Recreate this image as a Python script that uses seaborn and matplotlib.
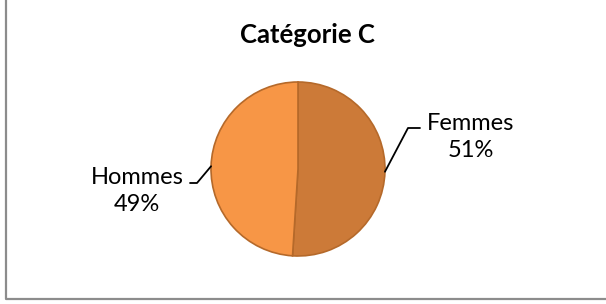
import numpy as np
import matplotlib
matplotlib.use("Agg")
import matplotlib.pyplot as plt
import seaborn as sns

# données
categories = ["Femmes", "Hommes"]
parts = [51, 49]
colors = ["#CC7A38", "#F79646"]
title = "Catégorie C"

sns.set_theme(style="white")
plt.rcParams['font.family'] = ['Lato', 'DejaVu Sans']

W, H = 606, 304
fig = plt.figure(figsize=(W / 100, H / 100), dpi=100)
ax = fig.add_axes([0, 0, 1, 1])

# cadre du graphique (bords gauche et bas visibles)
ax.plot([5.5, 5.5, W + 5], [H + 5, 5.5, 5.5],
        color="#8c8c8c", lw=1.6, solid_capstyle="butt", clip_on=False)

cx, cy, r = 298, H - 169, 87
wedges, _ = ax.pie(parts, colors=colors, startangle=90, counterclock=False,
                   center=(cx, cy), radius=r, frame=True,
                   wedgeprops=dict(edgecolor="#B5692A", linewidth=1.2))
ax.set_xlim(0, W)
ax.set_ylim(0, H)
ax.set_aspect("equal")
ax.axis("off")

ax.text(307, H - 35, title, ha="center", va="center",
        fontsize=18.5, fontweight="bold", color="black")

# étiquettes avec lignes de rappel
label_pos = [(471, H - 137), (137, H - 191)]
elbows = [((408, H - 128), (420, H - 128)), ((197, H - 183), (190, H - 183))]
for w, name, p, (x, y), (e1, e2) in zip(wedges, categories, parts, label_pos, elbows):
    ang = np.deg2rad((w.theta1 + w.theta2) / 2)
    x0, y0 = cx + r * np.cos(ang), cy + r * np.sin(ang)
    ax.plot([x0, e1[0], e2[0]], [y0, e1[1], e2[1]], color="black", lw=1.3)
    ax.text(x, y, f"{name}\n{p}%", ha="center", va="center",
            fontsize=17, linespacing=1.4, color="black")

fig.savefig("out.png", dpi=100)
